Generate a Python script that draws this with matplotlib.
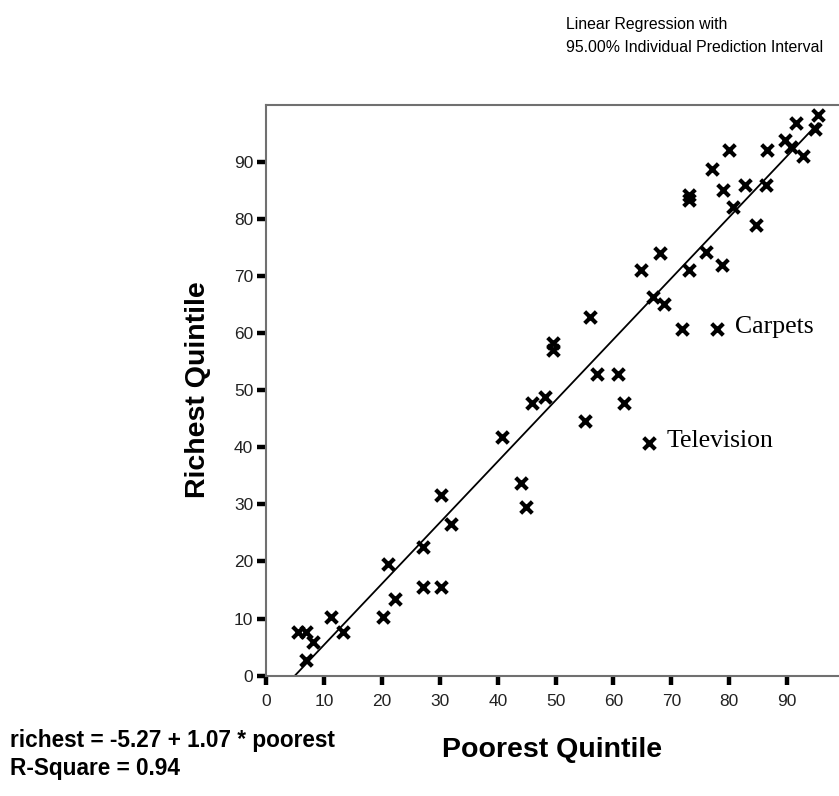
import matplotlib
matplotlib.use("Agg")
import matplotlib.pyplot as plt

# share of households owning each item, poorest vs richest quintile (%)
poorest = [5.4, 6.9, 8.0, 6.9, 11.1, 13.2, 20.1, 21.0, 22.2, 27.0,
           27.1, 30.1, 30.1, 31.9, 40.8, 44.0, 44.9, 46.0, 48.1, 55.1,
           61.9, 66.1, 49.5, 49.5, 56.0, 57.1, 60.8, 66.8, 68.8, 71.9,
           77.9, 64.8, 68.1, 73.0, 76.0, 78.8, 80.6, 84.7, 73.0, 73.0,
           78.9, 82.8, 86.4, 77.1, 79.9, 86.5, 89.6, 90.7, 92.7, 91.6,
           95.4, 94.9]
richest = [7.6, 7.6, 5.8, 2.7, 10.3, 7.6, 10.3, 19.5, 13.4, 22.6,
           15.6, 15.6, 31.6, 26.5, 41.8, 33.8, 29.6, 47.8, 48.8, 44.6,
           47.8, 40.8, 57.0, 58.2, 62.9, 52.9, 52.9, 66.4, 65.2, 60.8,
           60.8, 71.0, 74.1, 71.0, 74.2, 72.0, 82.1, 79.0, 83.3, 84.3,
           85.1, 85.9, 85.9, 88.8, 92.1, 92.1, 93.9, 92.6, 91.1, 96.9,
           98.2, 95.8]

# labelled outliers
labels = {"Carpets": (77.9, 60.8), "Television": (66.1, 40.8)}

intercept = -5.27
slope = 1.07
r_square = 0.94

ticks = [0, 10, 20, 30, 40, 50, 60, 70, 80, 90]

plt.rcParams["font.family"] = ["Liberation Sans", "DejaVu Sans"]

fig = plt.figure(figsize=(8.39, 7.96), dpi=100)
ax = fig.add_axes([0.3176, 0.1513, 0.6824, 0.7168])

ax.scatter(poorest, richest, marker="x", s=70, c="black", linewidths=3.0, zorder=3)

# fitted line, starting where it crosses zero
x0 = -intercept / slope
x1 = max(poorest)
ax.plot([x0, x1], [intercept + slope * x0, intercept + slope * x1],
        color="black", lw=1.3, zorder=2)

for name, (px, py) in labels.items():
    ax.annotate(name, (px, py), xytext=(13, 1), textcoords="offset points",
                va="center", ha="left", fontsize=18.5,
                family=["Liberation Serif", "DejaVu Serif"])

ax.set_xlim(0, 99)
ax.set_ylim(0, 100)
ax.set_xticks(ticks)
ax.set_yticks(ticks)
ax.tick_params(direction="out", length=6.5, width=3.2, color="black",
               labelsize=12.5, labelcolor="#222222")
ax.tick_params(axis="x", pad=7)
ax.tick_params(axis="y", pad=3)

for side in ["left", "bottom", "top"]:
    ax.spines[side].set_color("#707070")
    ax.spines[side].set_linewidth(1.5)
ax.spines["right"].set_visible(False)

fig.text(552 / 839, 1 - 750 / 796, "Poorest Quintile", ha="center", va="center",
         fontsize=20.5, fontweight="bold")
fig.text(198 / 839, 1 - 390 / 796, "Richest Quintile", ha="center", va="center",
         rotation=90, fontsize=20.5, fontweight="bold")

fig.text(566 / 839, 1 - 36 / 796,
         "Linear Regression with\n95.00% Individual Prediction Interval",
         ha="left", va="center", fontsize=11.4, linespacing=1.6)

fig.text(10 / 839, 1 - 740 / 796, f"richest = {intercept:.2f} + {slope:.2f} * poorest",
         ha="left", va="center", fontsize=16.3, fontweight="bold")
fig.text(10 / 839, 1 - 768 / 796, f"R-Square = {r_square:.2f}",
         ha="left", va="center", fontsize=16.3, fontweight="bold")

fig.savefig("out.png", dpi=100)
